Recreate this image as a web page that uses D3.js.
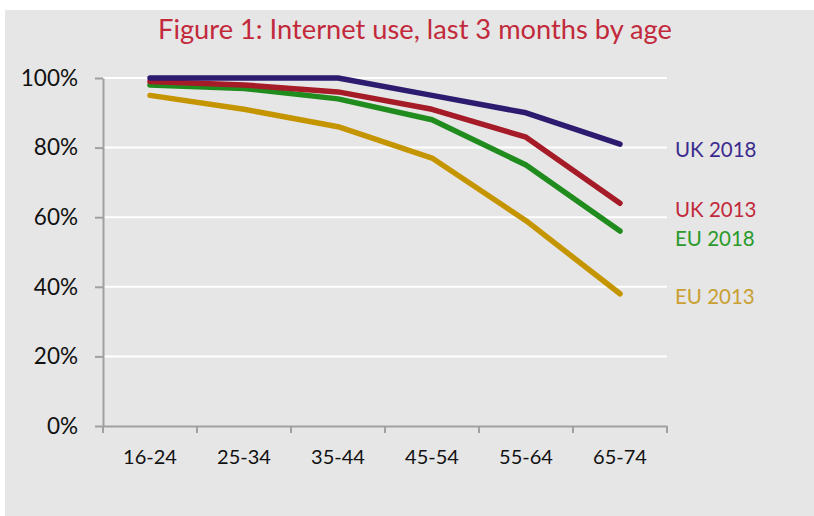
<!DOCTYPE html>
<html><head><meta charset="utf-8">
<script src="https://cdn.jsdelivr.net/npm/d3@7"></script>
<style>
html,body{margin:0;padding:0;background:#fff;}
svg{display:block;}
text{font-family:Lato,"Open Sans",sans-serif;}
</style></head>
<body>
<svg id="c" width="814" height="516"></svg>
<script>
const title = "Figure 1: Internet use, last 3 months by age";
const categories = ["16-24","25-34","35-44","45-54","55-64","65-74"];
const yTicks = [0, 0.2, 0.4, 0.6, 0.8, 1.0];
const seriesNames = ["EU 2013","EU 2018","UK 2013","UK 2018"];
const eu2013 = [95, 91, 86, 77, 59, 38];
const eu2018 = [98, 97, 94, 88, 75, 56];
const uk2013 = [99, 98, 96, 91, 83, 64];
const uk2018 = [100, 100, 100, 95, 90, 81];
const seriesValues = [eu2013, eu2018, uk2013, uk2018];

// styles / layout
const lineColors = {"EU 2013":"#c59500","EU 2018":"#218c1e","UK 2013":"#a51b27","UK 2018":"#2d1b70"};
const labelColors = {"EU 2013":"#c9a032","EU 2018":"#2b9a2b","UK 2013":"#c22a3c","UK 2018":"#3a2c8e"};
const labelNudge = {"EU 2013":3,"EU 2018":7,"UK 2013":6,"UK 2018":5};

const svg = d3.select("#c");
svg.append("rect").attr("x",5).attr("y",10).attr("width",809).attr("height",506).attr("fill","#e6e6e6");

const x = d3.scaleBand().domain(categories).range([103,667]).paddingInner(0).paddingOuter(0);
const y = d3.scaleLinear().domain([0,1]).range([426,78]);

// gridlines
svg.append("g").selectAll("line").data(yTicks.filter(d=>d>0)).join("line")
  .attr("x1",103).attr("x2",667).attr("y1",d=>y(d)).attr("y2",d=>y(d))
  .attr("stroke","#ffffff").attr("stroke-width",2);

// y axis
const ya = svg.append("g").attr("transform","translate(103,0)")
  .call(d3.axisLeft(y).tickValues(yTicks).tickFormat(d3.format(".0%")).tickSize(8).tickSizeOuter(0).tickPadding(17));
ya.select(".domain").attr("stroke","#a0a0a0").attr("stroke-width",2);
ya.selectAll(".tick line").attr("stroke","#a0a0a0").attr("stroke-width",2);
ya.selectAll(".tick text").attr("font-size",22.5).attr("fill","#111").attr("font-family","Lato,'Open Sans',sans-serif");

// x axis
const xa = svg.append("g").attr("transform","translate(0,426)")
  .call(d3.axisBottom(x).tickSize(0).tickSizeOuter(0));
xa.select(".domain").attr("stroke","#a0a0a0").attr("stroke-width",2);
xa.selectAll(".tick text").attr("font-size",20).attr("fill","#111").attr("y",38).attr("dy",0)
  .attr("font-family","Lato,'Open Sans',sans-serif");
const bounds = categories.map(c=>x(c)).concat([x(categories[categories.length-1])+x.bandwidth()]);
xa.append("g").selectAll("line").data(bounds).join("line")
  .attr("x1",d=>d).attr("x2",d=>d).attr("y1",0).attr("y2",7)
  .attr("stroke","#a0a0a0").attr("stroke-width",2);

// lines
const line = d3.line().x((d,i)=>x(categories[i])+x.bandwidth()/2).y(d=>y(d/100));
svg.append("g").selectAll("path").data(seriesNames).join("path")
  .attr("d",(n,i)=>line(seriesValues[i]))
  .attr("fill","none").attr("stroke",n=>lineColors[n]).attr("stroke-width",5.5)
  .attr("stroke-linecap","round").attr("stroke-linejoin","round");

// labels
svg.append("g").selectAll("text").data(seriesNames).join("text")
  .attr("x",675)
  .attr("y",(n,i)=>y(seriesValues[i][seriesValues[i].length-1]/100)+labelNudge[n])
  .attr("dy","0.36em")
  .attr("font-size",20.5).attr("fill",n=>labelColors[n]).text(n=>n);

// title
const t = svg.append("text").attr("x",415).attr("y",39).attr("text-anchor","middle")
  .attr("font-size",26).attr("fill","#c22a3c").text(title);
const w = t.node().getComputedTextLength();
if (w>0) t.attr("font-size", 26*514/w);
</script>
</body></html>
